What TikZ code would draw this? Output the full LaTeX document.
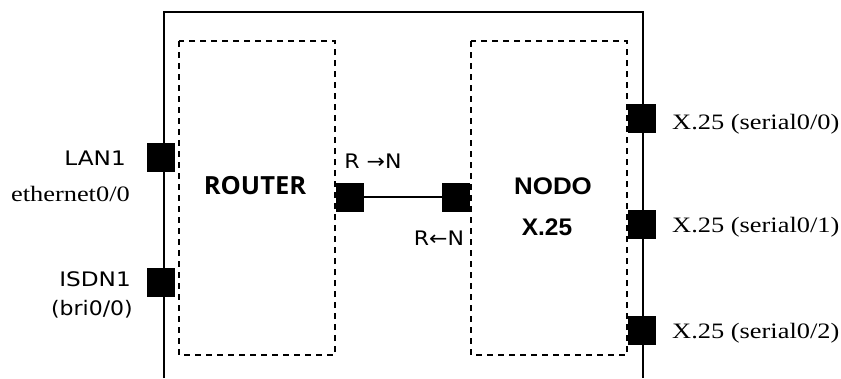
\documentclass[tikz,border=0pt]{standalone}
\usepackage{fontspec}
\setmainfont{Liberation Serif}
\setsansfont{DejaVu Sans}
\newfontfamily\osfont{Open Sans}
\newfontfamily\arfont{Liberation Sans}
\newcommand\hstretch[2]{\scalebox{#1}[1]{#2}}
\begin{document}
\begin{tikzpicture}[x=1pt,y=-1pt,
  port/.style={draw=black,fill=black,minimum width=27pt,minimum height=28pt,inner sep=0pt,outer sep=0pt},
  dbox/.style={draw=black,line width=1.3pt,dash pattern=on 6pt off 5pt},
  frame/.style={draw=black,line width=1.4pt},
  slab/.style={font=\sffamily\fontsize{20}{22}\selectfont,inner sep=0pt},
  rlab/.style={font=\osfont\bfseries\fontsize{25}{27}\selectfont,inner sep=0pt},
  blab/.style={font=\arfont\bfseries\fontsize{24}{26}\selectfont,inner sep=0pt},
  tlab/.style={font=\fontsize{22}{24}\selectfont,inner sep=0pt},
  link/.style={draw=black,line width=1.2pt}]
\useasboundingbox (0,0) rectangle (841,378);
% outer frame (open at bottom)
\coordinate (fl) at (164,378);
\coordinate (ftl) at (164,12);
\coordinate (ftr) at (643,12);
\coordinate (fr) at (643,378);
\draw[frame] (fl) -- (ftl) -- (ftr) -- (fr);
% dashed boxes
\draw[dbox] (179,41) rectangle (335,355);
\draw[dbox] (471,41) rectangle (627,355);
% ports
\node[port] (lan) at (161,157) {};
\node[port] (isdn) at (161,282) {};
\node[port] (rr) at (350,197) {};
\node[port] (nl) at (456,197) {};
\node[port] (s0) at (642,118) {};
\node[port] (s1) at (642,224) {};
\node[port] (s2) at (642,330) {};
\draw[link] (rr) -- (nl);
% labels
\node[slab,anchor=east] (tlan) at (126,158) {\hstretch{1.16}{LAN1}};
\node[tlab,anchor=east] (teth) at (130,194) {\hstretch{1.2}{ethernet0/0}};
\node[slab,anchor=east] (tisdn) at (131,279) {\hstretch{1.16}{ISDN1}};
\node[slab,anchor=east] (tbri) at (133,309) {\hstretch{1.1}{(bri0/0)}};
\node[rlab] (trouter) at (255,186) {\hstretch{1.02}{ROUTER}};
\node[blab] (tnodo) at (553,186) {\hstretch{1.08}{NODO}};
\node[blab] (tx25) at (547,227) {\hstretch{1.02}{X.25}};
\node[slab] (trn) at (373,161) {\hstretch{1.1}{R →N}};
\node[slab] (tnr) at (439,238) {\hstretch{1.1}{R←N}};
\node[tlab,anchor=west] (ts0) at (672,124) {\hstretch{1.2}{X.25 (serial0/0)}};
\node[tlab,anchor=west] (ts1) at (672,227) {\hstretch{1.2}{X.25 (serial0/1)}};
\node[tlab,anchor=west] (ts2) at (672,333) {\hstretch{1.2}{X.25 (serial0/2)}};
\end{tikzpicture}
\end{document}
